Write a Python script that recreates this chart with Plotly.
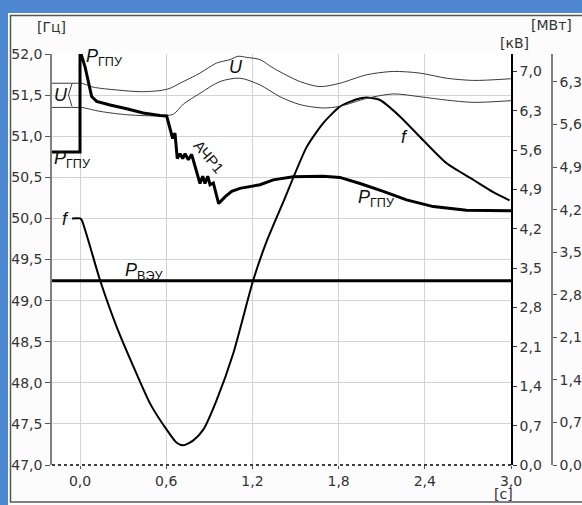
import plotly.graph_objects as go

# ---------------- data ----------------
# frequency f [Hz]
f_t = [-0.055, 0.0, 0.012, 0.139, 0.255, 0.371, 0.487, 0.603, 0.673, 0.719, 0.789,
       0.858, 0.951, 1.067, 1.206, 1.299, 1.415, 1.578, 1.693, 1.809, 1.926,
       1.995, 2.088, 2.227, 2.389, 2.552, 2.737, 2.876, 2.99]
f_hz = [50.0, 50.0, 49.98, 49.25, 48.68, 48.20, 47.75, 47.43, 47.27, 47.24, 47.30,
        47.43, 47.79, 48.36, 49.25, 49.72, 50.20, 50.87, 51.16, 51.36, 51.45,
        51.47, 51.44, 51.24, 50.95, 50.67, 50.47, 50.32, 50.22]

# P_GPU [MW]
p_t = [-0.195, 0.0, 0.0, 0.01, 0.035, 0.058, 0.081, 0.116, 0.209, 0.325, 0.44, 0.557,
       0.603, 0.645, 0.661, 0.677, 0.696, 0.715, 0.731, 0.754, 0.777, 0.835, 0.854, 0.870,
       0.889, 0.905, 0.928, 0.965, 1.009, 1.056, 1.113, 1.253, 1.345, 1.484, 1.693, 1.809,
       1.949, 2.111, 2.273, 2.459, 2.69, 3.0]
p_mw = [5.15, 5.15, 6.74, 6.74, 6.55, 6.28, 6.06, 5.98, 5.92, 5.86, 5.79, 5.75,
        5.74, 5.37, 5.46, 5.04, 5.12, 5.04, 5.12, 5.02, 5.11, 4.63, 4.75, 4.63,
        4.75, 4.61, 4.64, 4.30, 4.41, 4.50, 4.55, 4.61, 4.69, 4.74, 4.75, 4.73,
        4.63, 4.50, 4.36, 4.25, 4.19, 4.18]

# P_VEU [MW]
pv_t = [-0.195, 3.0]
pv_mw = [3.03, 3.03]

# U, upper and lower [kV]
u1_t = [-0.195, 0.0, 0.012, 0.093, 0.255, 0.42, 0.557, 0.626, 0.696, 0.835, 0.951, 1.044,
        1.10, 1.16, 1.253, 1.345, 1.531, 1.67, 1.809, 1.995, 2.18, 2.366, 2.55, 2.74, 3.0]
u1_kv = [6.79, 6.79, 6.79, 6.72, 6.67, 6.64, 6.66, 6.70, 6.79, 6.97, 7.15, 7.21,
         7.27, 7.25, 7.21, 7.06, 6.82, 6.73, 6.79, 6.94, 7.00, 6.97, 6.88, 6.84, 6.87]
u2_t = [-0.195, 0.0, 0.012, 0.139, 0.325, 0.557, 0.65, 0.72, 0.835, 0.974, 1.113, 1.253,
        1.392, 1.531, 1.693, 1.809, 1.995, 2.18, 2.366, 2.552, 2.737, 3.0]
u2_kv = [6.36, 6.36, 6.36, 6.29, 6.23, 6.21, 6.24, 6.42, 6.61, 6.82, 6.88, 6.76,
         6.55, 6.41, 6.35, 6.38, 6.52, 6.60, 6.55, 6.49, 6.45, 6.48]

x_ticks = [0.0, 0.6, 1.2, 1.8, 2.4, 3.0]
hz_ticks = [47.0, 47.5, 48.0, 48.5, 49.0, 49.5, 50.0, 50.5, 51.0, 51.5, 52.0]
kv_ticks = [0.0, 0.7, 1.4, 2.1, 2.8, 3.5, 4.2, 4.9, 5.6, 6.3, 7.0]
mw_ticks = [0.0, 0.7, 1.4, 2.1, 2.8, 3.5, 4.2, 4.9, 5.6, 6.3]

# ---------------- geometry helpers (pixel -> paper) ----------------
W, H = 582, 505
ML, MR, MT, MB = 52, 20, 54, 40
PW = W - ML - MR
PH = H - MT - MB


def xp(px):
    return (px - ML) / PW


def yp(py):
    return (H - MB - py) / PH


TICKFONT = dict(family="DejaVu Sans", size=14, color="#333333")
LBLFONT = dict(family="Liberation Sans", size=18, color="#111111")

fig = go.Figure()

fig.add_trace(go.Scatter(x=u1_t, y=u1_kv, yaxis="y2", mode="lines",
                         line=dict(color="#3a3a3a", width=1, shape="spline", smoothing=0.8),
                         showlegend=False, hoverinfo="skip"))
fig.add_trace(go.Scatter(x=u2_t, y=u2_kv, yaxis="y2", mode="lines",
                         line=dict(color="#3a3a3a", width=1, shape="spline", smoothing=0.8),
                         showlegend=False, hoverinfo="skip"))
fig.add_trace(go.Scatter(x=pv_t, y=pv_mw, yaxis="y3", mode="lines",
                         line=dict(color="#000000", width=3),
                         showlegend=False, hoverinfo="skip"))
fig.add_trace(go.Scatter(x=p_t, y=p_mw, yaxis="y3", mode="lines",
                         line=dict(color="#000000", width=3),
                         showlegend=False, hoverinfo="skip"))
fig.add_trace(go.Scatter(x=f_t, y=f_hz, yaxis="y", mode="lines",
                         line=dict(color="#000000", width=2, shape="spline", smoothing=0.6),
                         showlegend=False, hoverinfo="skip"))

shapes = [
    # light panel over blue frame
    dict(type="rect", xref="paper", yref="paper", x0=xp(8), x1=xp(600), y0=yp(520), y1=yp(13),
         fillcolor="#fcfcfc", line=dict(width=0), layer="below"),
    # dark panel border
    dict(type="rect", xref="paper", yref="paper", x0=xp(10.5), x1=xp(600), y0=yp(502), y1=yp(15.5),
         fillcolor="rgba(0,0,0,0)", line=dict(color="#555555", width=1.5), layer="below"),
    # white plot area
    dict(type="rect", xref="paper", yref="paper", x0=0, x1=xp(511), y0=0, y1=1,
         fillcolor="#ffffff", line=dict(width=0), layer="below"),
    # dotted bottom axis line
    dict(type="line", xref="paper", yref="paper", x0=0, x1=xp(511), y0=0, y1=0,
         line=dict(color="#000000", width=1.5, dash="dot")),
    # U bracket
    dict(type="line", xref="paper", yref="paper", x0=xp(68.5), y0=yp(95), x1=xp(72), y1=yp(83.5),
         line=dict(color="#3a3a3a", width=1)),
    dict(type="line", xref="paper", yref="paper", x0=xp(68.5), y0=yp(95), x1=xp(72), y1=yp(106.5),
         line=dict(color="#3a3a3a", width=1)),
]

ann = []


def add_text(text, px, py, font, xanchor="center", yanchor="middle", angle=0):
    ann.append(dict(text=text, x=xp(px), y=yp(py), xref="paper", yref="paper",
                    showarrow=False, font=font, xanchor=xanchor, yanchor=yanchor,
                    textangle=angle))


add_text("[Гц]", 51, 27, TICKFONT)
add_text("[кВ]", 514, 43, TICKFONT)
add_text("[МВт]", 551, 25, TICKFONT)
add_text("[с]", 503, 494, TICKFONT)

add_text("<i>P</i><sub>ГПУ</sub>", 84, 58, LBLFONT, xanchor="left")
add_text("<i>P</i><sub>ГПУ</sub>", 52, 159, LBLFONT, xanchor="left")
add_text("<i>P</i><sub>ГПУ</sub>", 356, 198, LBLFONT, xanchor="left")
add_text("<i>P</i><sub>ВЭУ</sub>", 123, 271, LBLFONT, xanchor="left")
add_text("<i>U</i>", 61, 95, LBLFONT)
add_text("<i>U</i>", 236, 67, LBLFONT)
add_text("<i>f</i>", 404, 137, LBLFONT)
add_text("<i>f</i>", 65, 219, LBLFONT)
add_text("АЧР1", 209, 156, dict(family="Liberation Sans", size=15, color="#111111"), angle=50)

fig.update_layout(
    width=W, height=H,
    margin=dict(l=ML, r=MR, t=MT, b=MB, pad=0),
    paper_bgcolor="#4d87cf",
    plot_bgcolor="rgba(0,0,0,0)",
    separators=", ",
    showlegend=False,
    shapes=shapes,
    annotations=ann,
    xaxis=dict(domain=[0, xp(511)], range=[-0.195, 3.0], tickvals=x_ticks, tickformat=".1f",
               showgrid=True, gridcolor="#d3d3d3", gridwidth=1, zeroline=False, showline=False,
               ticks="outside", ticklen=3, tickcolor="#555555", tickfont=TICKFONT,
               automargin=False, fixedrange=True),
    yaxis=dict(range=[47, 52], tickvals=hz_ticks, tickformat=".1f",
               showgrid=True, gridcolor="#d3d3d3", gridwidth=1, zeroline=False,
               showline=True, linecolor="#808080", linewidth=1.5,
               ticks="outside", ticklen=5, tickcolor="#555555", tickfont=TICKFONT,
               automargin=False),
    yaxis2=dict(overlaying="y", side="right", anchor="x", range=[0, 7.31], tickvals=kv_ticks,
                tickformat=".1f", showgrid=False, zeroline=False,
                showline=True, linecolor="#000000", linewidth=1.5,
                ticks="outside", ticklen=4, tickcolor="#333333", tickfont=TICKFONT,
                automargin=False),
    yaxis3=dict(overlaying="y", side="right", anchor="free", position=xp(552), range=[0, 6.76],
                tickvals=mw_ticks, tickformat=".1f", showgrid=False, zeroline=False,
                showline=True, linecolor="#808080", linewidth=1.5,
                ticks="outside", ticklen=4, tickcolor="#555555", tickfont=TICKFONT,
                automargin=False),
)

fig.write_html("out.html", config={"displayModeBar": False},
               post_script="document.body.style.margin='0';document.body.style.overflow='hidden';")
